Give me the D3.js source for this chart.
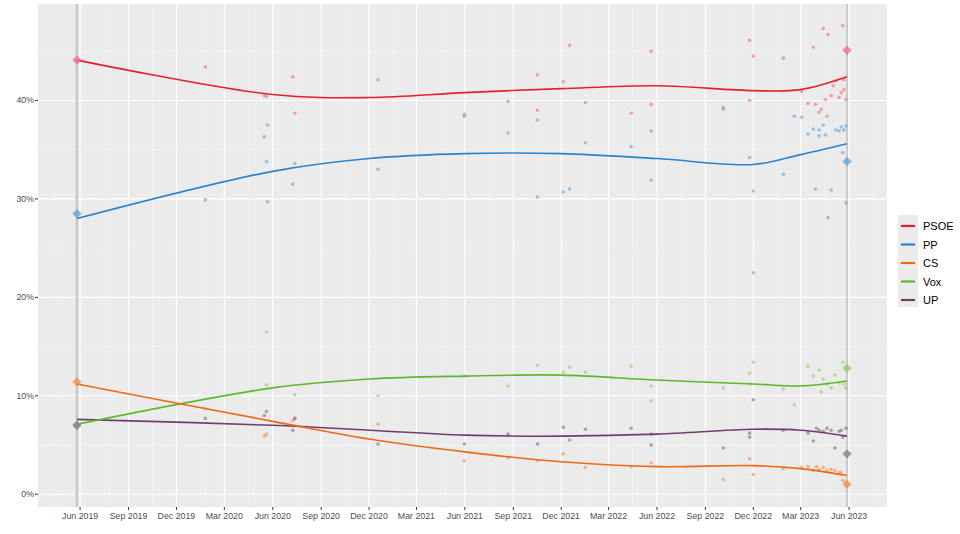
<!DOCTYPE html>
<html><head><meta charset="utf-8">
<script src="https://cdn.jsdelivr.net/npm/d3@7"></script>
<style>body{margin:0;background:#fff}svg{font-family:"Liberation Sans",Arial,sans-serif}</style>
</head><body><svg id="c" width="960" height="534"></svg>
<script>
const parties = ["PSOE","PP","CS","Vox","UP"];
const lineColors = {PSOE:"#e4202a",PP:"#2a82d0",CS:"#ef6913",Vox:"#5db82b",UP:"#6e3f6c"};
const pointColors = {PSOE:"#ee6a86",PP:"#5da2d8",CS:"#f5894a",Vox:"#8fce5c",UP:"#7f6a84"};
const elections = ["2019-05-26","2023-05-28"];
const results2019 = {PSOE:44.1,PP:28.5,CS:11.4,Vox:7.0,UP:7.0};
const results2023 = {PSOE:45.1,PP:33.8,CS:1.0,Vox:12.8,UP:4.1};
const trendDates = ["2019-05-26","2020-06-01","2020-12-01","2021-06-01","2021-12-01","2022-06-01","2022-12-01","2023-03-01","2023-05-28"];
const trendPSOE = [44.1,40.6,40.3,40.8,41.2,41.5,41.0,41.1,42.4];
const trendPP   = [28.0,32.8,34.1,34.6,34.6,34.1,33.5,34.5,35.6];
const trendCS   = [11.2,7.4,5.6,4.3,3.3,2.8,2.9,2.6,1.9];
const trendVox  = [7.1,10.8,11.7,12.0,12.1,11.6,11.2,11.0,11.5];
const trendUP   = [7.6,7.0,6.5,6.0,5.9,6.1,6.6,6.5,5.9];
const pollsPSOE = [["2020-01-25",43.4],["2020-05-16",40.5],["2020-05-20",40.4],["2020-05-22",37.5],["2020-07-09",42.4],["2020-07-13",38.7],["2020-12-18",42.1],["2021-05-31",38.6],["2021-08-22",39.9],["2021-10-17",42.6],["2021-10-17",39.0],["2021-12-05",41.9],["2021-12-17",45.6],["2022-01-16",39.8],["2022-04-13",38.7],["2022-05-21",45.0],["2022-05-21",39.6],["2022-10-05",39.3],["2022-11-24",46.1],["2022-11-24",40.0],["2022-12-01",44.5],["2023-01-27",44.3],["2023-03-03",40.9],["2023-03-15",39.7],["2023-03-25",45.4],["2023-03-29",39.6],["2023-04-05",38.8],["2023-04-09",39.1],["2023-04-13",47.3],["2023-04-17",40.1],["2023-04-20",38.4],["2023-04-22",46.7],["2023-04-28",40.5],["2023-05-02",41.5],["2023-05-07",42.0],["2023-05-13",40.3],["2023-05-17",40.8],["2023-05-20",47.6],["2023-05-22",42.1],["2023-05-26",40.1],["2023-05-22",41.1]];
const pollsPP = [["2020-01-25",29.9],["2020-05-16",36.3],["2020-05-20",33.8],["2020-05-22",29.7],["2020-07-09",31.5],["2020-07-13",33.6],["2020-12-18",33.0],["2021-05-31",38.4],["2021-08-22",36.7],["2021-10-17",38.0],["2021-10-17",30.2],["2021-12-05",30.7],["2021-12-17",31.0],["2022-01-16",35.7],["2022-04-13",35.3],["2022-05-21",36.9],["2022-05-21",31.9],["2022-10-05",39.1],["2022-11-24",34.2],["2022-12-01",30.8],["2022-12-01",22.5],["2023-01-27",32.5],["2023-02-17",38.4],["2023-03-03",38.3],["2023-03-15",36.6],["2023-03-25",37.1],["2023-03-29",31.0],["2023-04-05",37.0],["2023-04-05",36.4],["2023-04-13",37.5],["2023-04-17",36.5],["2023-04-22",28.1],["2023-04-28",30.9],["2023-05-07",37.0],["2023-05-13",36.9],["2023-05-17",37.3],["2023-05-20",34.7],["2023-05-22",37.0],["2023-05-26",29.6],["2023-05-26",37.4]];
const pollsCS = [["2020-05-16",5.9],["2020-05-20",6.1],["2020-07-09",7.5],["2020-07-13",7.7],["2020-12-18",7.1],["2021-05-31",3.4],["2021-08-22",3.7],["2021-10-17",3.4],["2021-12-05",4.1],["2022-01-16",2.7],["2022-04-13",2.8],["2022-05-21",3.2],["2022-10-05",1.5],["2022-11-24",3.6],["2022-12-01",2.0],["2023-01-27",2.6],["2023-03-03",2.7],["2023-03-15",2.8],["2023-03-25",2.4],["2023-03-31",2.8],["2023-04-05",2.5],["2023-04-13",2.7],["2023-04-20",2.4],["2023-04-28",2.5],["2023-05-05",2.4],["2023-05-13",2.2],["2023-05-17",2.2],["2023-05-20",1.4],["2023-05-26",1.2]];
const pollsVox = [["2020-01-25",8.7],["2020-05-20",16.5],["2020-05-20",11.1],["2020-07-13",10.1],["2020-12-18",10.0],["2021-05-31",12.0],["2021-08-22",11.0],["2021-10-17",13.1],["2021-12-05",12.4],["2021-12-17",12.9],["2022-01-16",12.4],["2022-04-13",13.0],["2022-05-21",11.0],["2022-05-21",9.5],["2022-10-05",10.8],["2022-11-24",12.3],["2022-11-24",11.2],["2022-12-01",13.4],["2023-01-27",10.7],["2023-02-17",9.1],["2023-03-15",13.0],["2023-03-25",12.0],["2023-04-05",12.6],["2023-04-09",10.4],["2023-04-13",11.7],["2023-04-20",11.2],["2023-04-28",10.8],["2023-05-05",12.1],["2023-05-13",11.3],["2023-05-20",13.4],["2023-05-26",10.8],["2023-05-22",11.2]];
const pollsUP = [["2020-01-25",7.7],["2020-05-16",8.0],["2020-05-20",8.4],["2020-07-09",6.5],["2020-07-13",7.7],["2020-12-18",5.1],["2021-05-31",5.1],["2021-08-22",6.1],["2021-10-17",5.1],["2021-12-05",6.8],["2021-12-17",5.5],["2022-01-16",6.6],["2022-04-13",6.7],["2022-05-21",6.1],["2022-05-21",5.0],["2022-10-05",4.7],["2022-11-24",6.2],["2022-11-24",5.8],["2022-12-01",9.6],["2023-01-27",6.5],["2023-03-15",6.2],["2023-03-25",5.4],["2023-03-31",6.7],["2023-04-05",6.5],["2023-04-13",6.4],["2023-04-20",6.7],["2023-04-28",6.5],["2023-05-05",4.7],["2023-05-13",6.4],["2023-05-17",6.5],["2023-05-20",5.8],["2023-05-26",6.7]];
const yTicks = [0,10,20,30,40];

const trends = {PSOE:trendPSOE,PP:trendPP,CS:trendCS,Vox:trendVox,UP:trendUP};
const polls = {PSOE:pollsPSOE,PP:pollsPP,CS:pollsCS,Vox:pollsVox,UP:pollsUP};
const P = d3.timeParse("%Y-%m-%d");
const svg = d3.select("#c");
const L=38,R=887,T=4,B=507;
const x = d3.scaleTime().domain([P("2019-03-13"),P("2023-08-12")]).range([L,R]);
const y = d3.scaleLinear().domain([-1.3,49.8]).range([B,T]);
svg.append("rect").attr("x",L).attr("y",T).attr("width",R-L).attr("height",B-T).attr("fill","#ebebeb");
const majX = d3.timeMonth.range(P("2019-06-01"),P("2023-07-01"),3);
const minX = d3.timeMonth.range(P("2019-04-16"),P("2023-08-01"),3).map(d=>d3.timeDay.offset(d,0));
const g = svg.append("g");
// minor
d3.range(-5,50,10).filter(v=>v>-1.3).forEach(v=>g.append("line").attr("x1",L).attr("x2",R).attr("y1",y(v)).attr("y2",y(v)).attr("stroke","#f5f5f5").attr("stroke-width",0.6));
majX.forEach(d=>{const m=new Date((+d)+ (+d3.timeMonth.offset(d,3)-d)/2);if(x(m)<R)g.append("line").attr("x1",x(m)).attr("x2",x(m)).attr("y1",T).attr("y2",B).attr("stroke","#f5f5f5").attr("stroke-width",0.6);});
{const d=P("2019-06-01");const m=new Date(+d-(+d-d3.timeMonth.offset(d,-3))/2);g.append("line").attr("x1",x(m)).attr("x2",x(m)).attr("y1",T).attr("y2",B).attr("stroke","#f5f5f5").attr("stroke-width",0.6);}
yTicks.forEach(v=>g.append("line").attr("x1",L).attr("x2",R).attr("y1",y(v)).attr("y2",y(v)).attr("stroke","#fff").attr("stroke-width",1.1));
majX.forEach(d=>g.append("line").attr("x1",x(d)).attr("x2",x(d)).attr("y1",T).attr("y2",B).attr("stroke","#fff").attr("stroke-width",1.1));
elections.forEach((e,i)=>g.append("line").attr("x1",x(P(e))).attr("x2",x(P(e))).attr("y1",T).attr("y2",B).attr("stroke",i?"#a8a8a8":"#c8c8c8").attr("stroke-width",i?1:2.5));
// axes
const fmt=d3.timeFormat("%b %Y");
majX.forEach(d=>{svg.append("line").attr("x1",x(d)).attr("x2",x(d)).attr("y1",B).attr("y2",B+3).attr("stroke","#333");
 svg.append("text").attr("x",x(d)).attr("y",B+12).attr("text-anchor","middle").attr("font-size",8.8).attr("fill","#4d4d4d").text(fmt(d));});
yTicks.forEach(v=>{svg.append("line").attr("x1",L-3).attr("x2",L).attr("y1",y(v)).attr("y2",y(v)).attr("stroke","#333");
 svg.append("text").attr("x",L-4).attr("y",y(v)+3).attr("text-anchor","end").attr("font-size",8.8).attr("fill","#4d4d4d").text(v+"%");});
// points
parties.forEach(p=>{
 g.selectAll(null).data(polls[p]).enter().append("circle").attr("cx",d=>x(P(d[0]))).attr("cy",d=>y(d[1])).attr("r",1.8).attr("fill",pointColors[p]).attr("opacity",0.6);
});
// trend lines
const line=d3.line().x(d=>x(P(d[0]))).y(d=>y(d[1])).curve(d3.curveCatmullRom.alpha(0.5));
parties.slice().reverse().forEach(p=>{
 g.append("path").attr("d",line(trendDates.map((d,i)=>[d,trends[p][i]]))).attr("fill","none").attr("stroke",lineColors[p]).attr("stroke-width",1.6);
});
// diamonds
const diamond=d3.symbol().type(d3.symbolDiamond2).size(55);
parties.forEach(p=>{
 [[elections[0],results2019[p]],[elections[1],results2023[p]]].forEach(r=>{
  g.append("path").attr("d",diamond).attr("transform",`translate(${x(P(r[0]))},${y(r[1])})`).attr("fill",p==="UP"?"#808080":pointColors[p]).attr("opacity",0.75);
 });
});
// legend
const lg=svg.append("g").attr("transform","translate(898,215)");
lg.append("rect").attr("x",0).attr("y",0).attr("width",20).attr("height",92).attr("fill","#ebebeb");
parties.forEach((p,i)=>{
 lg.append("line").attr("x1",3).attr("x2",17).attr("y1",11+i*18.5).attr("y2",11+i*18.5).attr("stroke",lineColors[p]).attr("stroke-width",2.2);
 lg.append("text").attr("x",25).attr("y",15+i*18.5).attr("font-size",11).attr("fill","#000").text(p);
});
</script></body></html>
